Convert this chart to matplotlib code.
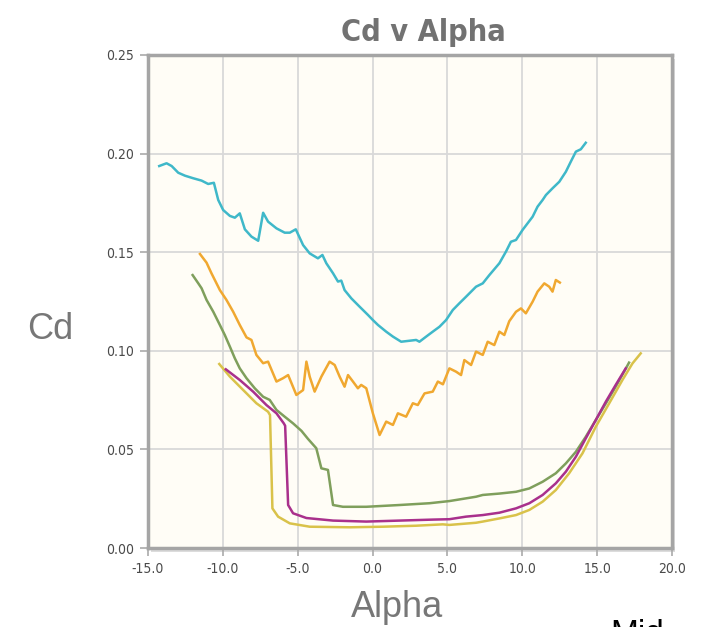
import matplotlib.pyplot as plt
from matplotlib.patches import Rectangle

# --- datos ---
alpha_cian = [-14.25, -13.76, -13.42, -12.98, -12.53, -11.98, -11.42, -10.98, -10.6, -10.31,
              -9.98, -9.53, -9.2, -8.87, -8.53, -8.09, -7.64, -7.31, -6.98, -6.42, -5.87,
              -5.53, -5.13, -4.64, -4.2, -3.65, -3.35, -3.09, -2.64, -2.31, -2.09, -1.87,
              -1.42, -0.87, -0.31, 0.02, 0.36, 0.91, 1.36, 1.91, 2.47, 2.91, 3.13, 3.58,
              4.02, 4.47, 4.91, 5.36, 5.8, 6.24, 6.91, 7.36, 7.8, 8.47, 8.91, 9.24, 9.58,
              10.02, 10.69, 11.02, 11.36, 11.58, 12.02, 12.47, 12.91, 13.24, 13.58, 13.91, 14.24]
cd_cian = [0.1937, 0.1951, 0.1937, 0.1903, 0.1888, 0.1875, 0.1863, 0.1846, 0.1852, 0.1765,
           0.1714, 0.1684, 0.1675, 0.1697, 0.1616, 0.1579, 0.1558, 0.1700, 0.1655, 0.1621, 0.1599,
           0.1599, 0.1616, 0.1536, 0.1494, 0.1469, 0.1486, 0.1444, 0.1393, 0.1351, 0.1356, 0.1308,
           0.1266, 0.1224, 0.1182, 0.1156, 0.1131, 0.1097, 0.1072, 0.1046, 0.1051, 0.1055, 0.1046, 0.1072,
           0.1097, 0.1122, 0.1156, 0.1207, 0.1241, 0.1274, 0.1325, 0.1342, 0.1384, 0.1444, 0.1503, 0.1553, 0.1562,
           0.1613, 0.1680, 0.1731, 0.1765, 0.1790, 0.1824, 0.1857, 0.1908, 0.1959, 0.2010, 0.2022, 0.2055]

alpha_naranja = [-11.53, -11.09, -10.76, -10.2, -9.76, -9.31, -8.87, -8.42, -8.09, -7.76, -7.31,
                 -6.98, -6.42, -5.98, -5.64, -5.09, -4.64, -4.42, -4.2, -3.87, -3.42, -2.87,
                 -2.53, -2.2, -1.87, -1.64, -1.31, -0.98, -0.76, -0.42, 0.02, 0.47, 0.91, 1.36,
                 1.69, 2.24, 2.69, 3.02, 3.47, 4.02, 4.36, 4.7, 5.13, 5.58, 5.91, 6.13, 6.58,
                 6.91, 7.36, 7.69, 8.13, 8.47, 8.8, 9.13, 9.58, 9.91, 10.24, 10.69, 11.02,
                 11.47, 11.8, 12.02, 12.24, 12.51]
cd_naranja = [0.1491, 0.1447, 0.1393, 0.1308, 0.1258, 0.1198, 0.1131, 0.1068, 0.1055, 0.0979, 0.0937,
              0.0945, 0.0844, 0.0861, 0.0877, 0.0776, 0.0801, 0.0945, 0.0869, 0.0793, 0.0869, 0.0945,
              0.0928, 0.0869, 0.0818, 0.0877, 0.0844, 0.0810, 0.0827, 0.0810, 0.0683, 0.0573, 0.0641, 0.0624,
              0.0683, 0.0666, 0.0734, 0.0725, 0.0784, 0.0793, 0.0844, 0.0830, 0.0911, 0.0894, 0.0877, 0.0953, 0.0928,
              0.0996, 0.0979, 0.1046, 0.1029, 0.1097, 0.1080, 0.1150, 0.1198, 0.1215, 0.1190, 0.1249, 0.1300,
              0.1342, 0.1325, 0.1300, 0.1359, 0.1346]

alpha_verde = [-12.02, -11.64, -11.42, -11.09, -10.64, -10.2, -9.87, -9.53, -9.2, -8.87, -8.42,
               -7.87, -7.31, -6.87, -6.42, -5.87, -5.31, -4.75, -4.31, -3.76, -3.42, -2.98,
               -2.64, -1.98, -0.42, 1.8, 3.8, 5.13, 6.91, 7.36, 8.47, 9.58, 10.47, 11.36,
               12.24, 12.91, 13.58, 14.24, 14.91, 15.58, 16.24, 16.8, 17.13]
cd_verde = [0.1384, 0.1342, 0.1317, 0.1258, 0.1198, 0.1131, 0.1080, 0.1021, 0.0962, 0.0911, 0.0861,
            0.0810, 0.0767, 0.0751, 0.0700, 0.0666, 0.0632, 0.0594, 0.0553, 0.0506, 0.0404, 0.0396,
            0.0218, 0.0209, 0.0209, 0.0218, 0.0227, 0.0238, 0.0260, 0.0269, 0.0276, 0.0285, 0.0302, 0.0336,
            0.0379, 0.0429, 0.0488, 0.0564, 0.0649, 0.0733, 0.0818, 0.0894, 0.0940]

alpha_magenta = [-9.8, -8.87, -7.98, -7.09, -6.42, -5.93, -5.84, -5.64, -5.31, -4.42, -2.64,
                 -0.42, 1.8, 4.02, 5.13, 6.24, 7.36, 8.47, 9.58, 10.47, 11.36, 12.24, 12.91,
                 13.58, 14.24, 14.91, 15.58, 16.24, 16.91]
cd_magenta = [0.0906, 0.0852, 0.0793, 0.0725, 0.0683, 0.0632, 0.0620, 0.0218, 0.0176, 0.0152, 0.0139,
              0.0134, 0.0139, 0.0144, 0.0146, 0.0159, 0.0167, 0.0179, 0.0201, 0.0227, 0.0269, 0.0328, 0.0387,
              0.0463, 0.0556, 0.0649, 0.0742, 0.0827, 0.0911]

alpha_amarillo = [-10.24, -9.53, -8.64, -7.76, -6.98, -6.85, -6.69, -6.31, -5.53, -4.2, -1.53,
                  0.69, 2.91, 4.69, 5.13, 6.91, 7.36, 8.47, 9.58, 10.47, 11.36, 12.24, 13.13,
                  14.02, 14.91, 15.8, 16.69, 17.36, 17.91]
cd_amarillo = [0.0933, 0.0869, 0.0801, 0.0734, 0.0691, 0.0674, 0.0201, 0.0159, 0.0125, 0.0108, 0.0105,
               0.0108, 0.0113, 0.0120, 0.0117, 0.0128, 0.0134, 0.0150, 0.0167, 0.0193, 0.0235, 0.0294, 0.0379,
               0.0480, 0.0615, 0.0733, 0.0852, 0.0936, 0.0987]

x_ticks = [-15, -10, -5, 0, 5, 10, 15, 20]
y_ticks = [0.00, 0.05, 0.10, 0.15, 0.20, 0.25]

fig = plt.figure(figsize=(7.11, 6.27), dpi=100)
ax = fig.add_axes([148 / 711, 1 - 548 / 627, 524 / 711, 493 / 627])

# sombra del marco (detras de los ejes)
sombra = Rectangle((151 / 711, 1 - 552 / 627), 524 / 711, 493 / 627,
                   transform=fig.transFigure, facecolor='#dcdcdc',
                   edgecolor='none', zorder=-5)
fig.patches.append(sombra)

ax.set_facecolor('#fffdf6')
ax.plot(alpha_cian, cd_cian, color='#3fb8c9', lw=1.8)
ax.plot(alpha_naranja, cd_naranja, color='#f0a830', lw=1.8)
ax.plot(alpha_verde, cd_verde, color='#7f9f5c', lw=1.8)
ax.plot(alpha_amarillo, cd_amarillo, color='#d9c24a', lw=1.8)
ax.plot(alpha_magenta, cd_magenta, color='#a9308c', lw=1.8)

ax.set_xlim(-15, 20)
ax.set_ylim(0, 0.25)
ax.set_xticks(x_ticks)
ax.set_xticklabels([f'{v:.1f}' for v in x_ticks])
ax.set_yticks(y_ticks)
ax.set_yticklabels([f'{v:.2f}' for v in y_ticks])
ax.grid(True, color='#d9d9d9', lw=1.3)
ax.set_axisbelow(True)
ax.tick_params(direction='out', length=6, width=1.2, color='#aaaaaa',
               labelcolor='#4a4a4a', labelsize=10, pad=4)
for lbl in ax.get_xticklabels() + ax.get_yticklabels():
    lbl.set_fontstretch('condensed')
for s in ax.spines.values():
    s.set_color('#a5a5a5')
    s.set_linewidth(2.5)

fig.text(423 / 711, 1 - 41 / 627, 'Cd v Alpha', ha='center', va='baseline',
         fontsize=22, color='#727272', family='DejaVu Sans', fontstretch='condensed',
         fontweight='bold')
fig.text(397 / 711, 1 - 617 / 627, 'Alpha', ha='center', va='baseline',
         fontsize=26, color='#777777', family='Liberation Sans')
fig.text(50 / 711, 1 - 339 / 627, 'Cd', ha='center', va='baseline',
         fontsize=26, color='#777777', family='Liberation Sans')
fig.text(610 / 711, 1 - 619 / 627, 'Mid', ha='left', va='top',
         fontsize=24, color='black', family='Liberation Sans')

fig.savefig('out.png', dpi=100)
